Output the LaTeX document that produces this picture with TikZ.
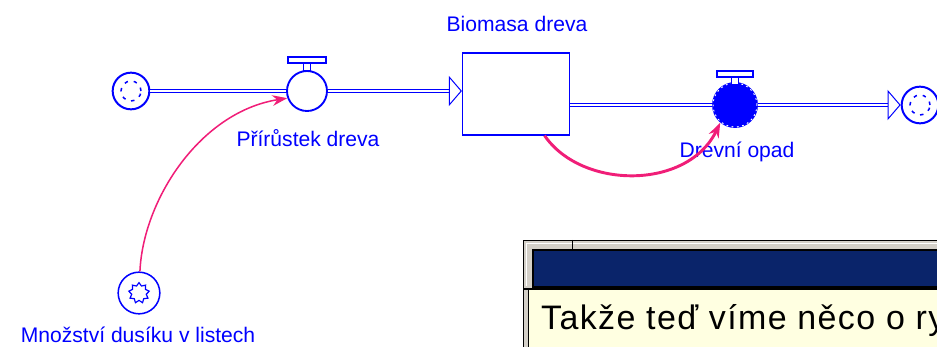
\documentclass[tikz,border=0pt]{standalone}
\usepackage{fontspec}
\setmainfont{Liberation Sans}
\usetikzlibrary{arrows.meta,shapes}
\definecolor{sfblue}{RGB}{0,0,255}
\definecolor{linkpink}{RGB}{240,30,120}
\definecolor{winnavy}{RGB}{10,36,106}
\definecolor{wingray}{RGB}{212,208,200}
\definecolor{tipyellow}{RGB}{255,255,225}
\tikzstyle{stock}=[rectangle,draw=sfblue,line width=1.3pt,minimum width=3.2cm,minimum height=2.45cm]
\tikzstyle{valve}=[circle,draw=sfblue,line width=1.6pt,fill=white,minimum size=1.2cm,inner sep=0pt]
\tikzstyle{handle}=[rectangle,draw=sfblue,line width=1.2pt,fill=white,minimum width=1.14cm,minimum height=0.19cm,inner sep=0pt]
\tikzstyle{stem}=[rectangle,draw=sfblue,line width=1.2pt,fill=white,minimum width=0.2cm,minimum height=0.2cm,inner sep=0pt]
\tikzstyle{cloudnode}=[circle,draw=sfblue,line width=1.7pt,fill=white,minimum size=1.1cm,inner sep=0pt]
\tikzstyle{aux}=[circle,draw=sfblue,line width=1.3pt,minimum size=1.25cm,inner sep=0pt]
\tikzstyle{gear}=[star,star points=9,star point ratio=1.4,draw=sfblue,line width=1pt,minimum size=0.62cm,inner sep=0pt]
\tikzstyle{pipe}=[draw=sfblue,double=white,double distance=1.8pt,line width=0.85pt]
\tikzstyle{pipehead}=[-{Triangle[fill=white,length=0.39cm,width=0.9cm]},draw=sfblue,line width=0.85pt]
\tikzstyle{link}=[-{Stealth[length=0.45cm,width=0.32cm]},draw=linkpink]
\tikzstyle{lbl}=[text=sfblue,font=\fontsize{18}{20}\selectfont]

\begin{document}
\begin{tikzpicture}[x=0.03cm,y=-0.03cm]
\useasboundingbox (0,0) rectangle (937,347);
\clip (0,0) rectangle (937,347);
% window at the bottom right
\fill[wingray,draw=black,line width=0.8pt] (523,240) rectangle (950,360);
\draw[white,line width=0.8pt] (526,286) -- (526,243) -- (950,243);
\draw[black,line width=0.8pt] (572,240) -- (572,250);
\fill[winnavy,draw=black,line width=1pt] (533,250) rectangle (950,287);
\draw[black,line width=1.2pt] (523,289) -- (950,289);
\fill[tipyellow] (528,290) rectangle (950,360);
\draw[black,line width=0.8pt] (528,290) -- (528,360);
\node[anchor=base west,inner sep=0pt,font=\fontsize{29}{32}\selectfont\addfontfeatures{LetterSpace=4}] (msg) at (541,329) {Takže teď víme něco o ry};
% stock and flows
\node[stock] (B) at (516,94) {};
\node[cloudnode] (C1) at (131,91) {};
\draw[sfblue,line width=1.3pt,dash pattern=on 3pt off 5pt] (C1) circle (0.3cm);
\node[cloudnode] (C2) at (920,105) {};
\draw[sfblue,line width=1.3pt,dash pattern=on 3pt off 5pt] (C2) circle (0.3cm);
\node[valve] (V1) at (307,91) {};
\node[stem] (V1s) at (307,67) {};
\node[handle] (V1h) at (307,60) {};
\node[valve,fill=sfblue,minimum size=1.32cm,postaction={draw=white,line width=0.8pt,dash pattern=on 1.5pt off 3pt}] (V2) at (735,105) {};
\node[stem] (V2s) at (735,81) {};
\node[handle,minimum width=1.08cm] (V2h) at (735,74) {};
\coordinate (h1) at (450,91);
\coordinate (h2) at (889,105);
\draw[pipe] (C1) -- (V1);
\draw[pipe] (V1) -- (h1);
\draw[pipehead] (h1) -- (h1-|B.west);
\draw[pipe] (V2-|B.east) -- (V2);
\draw[pipe] (V2) -- (h2);
\draw[pipehead] (h2) -- (C2);
% auxiliary
\node[aux] (A) at (139,293) {};
\node[gear] (Ag) at (139,293) {};
% labels
\node[lbl] (Bl) at (517,24) {Biomasa dreva};
\node[lbl] (V1l) at (308,138) {Přírůstek dreva};
\node[lbl] (V2l) at (737,152) {Drevní opad};
\node[lbl] (Al) at (138,335) {Množství dusíku v listech};
% links
\draw[link,line width=1.3pt] (A) .. controls (143,200) and (200,112) .. (V1.200);
\draw[link,line width=2.5pt] (B) .. controls (582,190) and (688,190) .. (V2.230);
\end{tikzpicture}
\end{document}
